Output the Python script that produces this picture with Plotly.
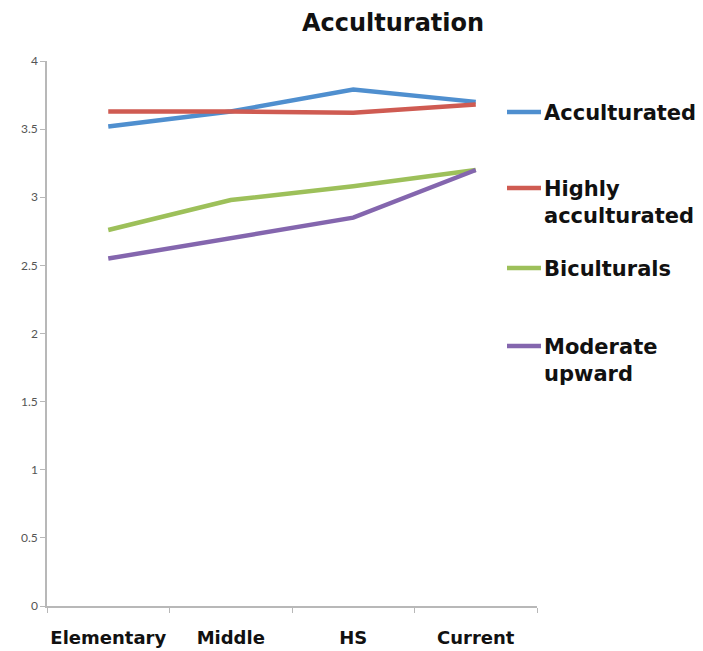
import plotly.graph_objects as go

# School stages on the x axis
stages = ["Elementary", "Middle", "HS", "Current"]

# Mean acculturation score for each group at each stage
acculturated = [3.52, 3.63, 3.79, 3.70]
highly_acculturated = [3.63, 3.63, 3.62, 3.68]
biculturals = [2.76, 2.98, 3.08, 3.20]
moderate_upward = [2.55, 2.70, 2.85, 3.20]

series_names = ["Acculturated", "Highly<br>acculturated", "Biculturals", "Moderate<br>upward"]
series_values = [acculturated, highly_acculturated, biculturals, moderate_upward]
series_colors = ["#4f8fcf", "#cf5b52", "#9dc05a", "#8466ae"]

y_ticks = [0, 0.5, 1, 1.5, 2, 2.5, 3, 3.5, 4]

BOLD_FONT = "DejaVu Sans"

fig = go.Figure()
for name, vals, col in zip(series_names, series_values, series_colors):
    fig.add_trace(go.Scatter(
        x=stages, y=vals, mode="lines", name=name,
        line=dict(color=col, width=4.5), showlegend=False,
    ))

# Hand-placed legend at the right of the plot area (pixel rows of each key line)
legend_y = [112, 188, 268, 346]
for name, col, py in zip(series_names, series_colors, legend_y):
    fig.add_shape(type="line", xref="paper", yref="paper",
                  x0=(507 - 47) / 490, x1=(541 - 47) / 490,
                  y0=(606 - py) / 545, y1=(606 - py) / 545,
                  line=dict(color=col, width=4.5))
    fig.add_annotation(xref="paper", yref="paper",
                       x=(542 - 47) / 490, y=(606 - py + 13) / 545,
                       text="<b>" + name + "</b>", showarrow=False,
                       xanchor="left", yanchor="top", align="left",
                       font=dict(family=BOLD_FONT, size=21, color="#111111"))

fig.update_layout(
    width=703, height=651,
    margin=dict(l=47, r=166, t=61, b=45),
    paper_bgcolor="white", plot_bgcolor="white",
    title=dict(text="<b>Acculturation</b>", x=393 / 703, xanchor="center",
               y=1 - 23 / 651, yanchor="middle",
               font=dict(family=BOLD_FONT, size=24, color="#111111")),
    font=dict(family="Lato"),
)

fig.update_xaxes(
    type="category", range=[-0.5, 3.5], automargin=False, tickangle=0,
    showgrid=False, showline=True, linecolor="#b8b8b8", linewidth=1.5,
    ticks="outside", tickson="boundaries", ticklen=5, tickcolor="#b8b8b8",
    tickfont=dict(family=BOLD_FONT, size=18, color="#111111"),
    tickprefix="<b>", ticksuffix="</b>", ticklabelstandoff=15,
)
fig.update_yaxes(
    range=[0, 4], tickvals=y_ticks, ticktext=[f"{v:g}" for v in y_ticks],
    automargin=False,
    showgrid=False, showline=True, linecolor="#b8b8b8", linewidth=1.5,
    ticks="outside", ticklen=5, tickcolor="#b8b8b8", zeroline=False,
    tickfont=dict(family="Lato", size=12, color="#555555"),
)

fig.write_html("out.html")
